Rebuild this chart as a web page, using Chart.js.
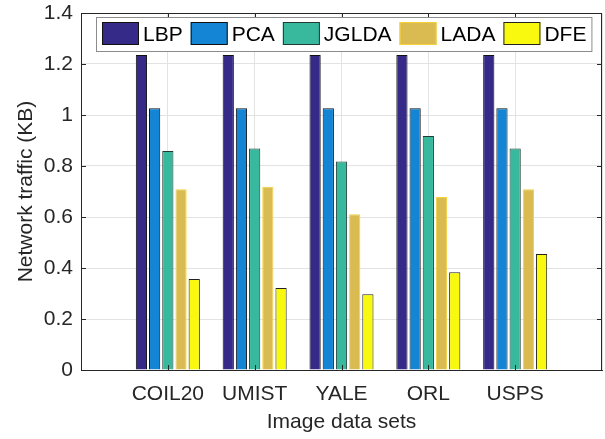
<!DOCTYPE html>
<html>
<head>
<meta charset="utf-8">
<script src="https://cdn.jsdelivr.net/npm/chart.js@4"></script>
<style>
  html, body { margin: 0; padding: 0; background: #fff; }
  #wrap { width: 605px; height: 439px; }
</style>
</head>
<body>
<div id="wrap"><canvas id="myChart" width="605" height="439"></canvas></div>
<script>
// Network traffic per method and image data set

const categories = ['COIL20', 'UMIST', 'YALE', 'ORL', 'USPS'];
const methods = ['LBP', 'PCA', 'JGLDA', 'LADA', 'DFE'];

const lbp   = [1.235, 1.235, 1.235, 1.235, 1.235];
const pca   = [1.026, 1.026, 1.026, 1.026, 1.026];
const jglda = [0.859, 0.869, 0.818, 0.918, 0.869];
const lada  = [0.709, 0.719, 0.611, 0.678, 0.709];
const dfe   = [0.357, 0.322, 0.297, 0.383, 0.455];

const yTicks = [0, 0.2, 0.4, 0.6, 0.8, 1, 1.2, 1.4];

const fills   = ['#352a87', '#1485d4', '#38b99e', '#d9bb52', '#f8f90f'];
const borders = ['#111111', '#111111', '#1f3b33', '#f5d23a', '#222222'];

const font = 'Liberation Sans, Arial, Helvetica, sans-serif';
const axisColor = '#262626';

function toPoints(values) {
    return values.map((v, i) => ({x: i + 1, y: v}));
}

const seriesValues = [lbp, pca, jglda, lada, dfe];

// legend drawn inside the plot area, like matlab
const insideLegend = {
    id: 'insideLegend',
    afterDraw(chart) {
        const c = chart.ctx;
        const area = chart.chartArea;
        c.save();
        c.font = '21px ' + font;
        c.textBaseline = 'middle';
        const left = 96;
        const top = area.top + 4;
        const h = 34;
        let x = left + 6;
        const items = [];
        chart.data.datasets.forEach(ds => {
            const w = c.measureText(ds.label).width;
            items.push({x: x, ds: ds, w: w});
            x += 41 + w + 8;
        });
        const right = x - 8 + 5;
        c.fillStyle = '#ffffff';
        c.fillRect(left, top, right - left, h);
        c.strokeStyle = '#8c8c8c';
        c.lineWidth = 1;
        c.strokeRect(left + 0.5, top + 0.5, right - left, h);
        items.forEach(it => {
            c.fillStyle = it.ds.backgroundColor;
            c.fillRect(it.x, top + 5, 37, 23);
            c.strokeStyle = it.ds.borderColor;
            c.strokeRect(it.x + 0.5, top + 5.5, 36, 22);
            c.fillStyle = '#000000';
            c.fillText(it.ds.label, it.x + 41, top + h / 2 + 1);
        });
        c.restore();
    }
};

// box around axes with inward ticks
const axesBox = {
    id: 'axesBox',
    afterDatasetsDraw(chart) {
        const c = chart.ctx;
        const a = chart.chartArea;
        const xs = chart.scales.x;
        const ys = chart.scales.y;
        c.save();
        c.strokeStyle = axisColor;
        c.lineWidth = 1;
        c.beginPath();
        yTicks.forEach(t => {
            const py = Math.round(ys.getPixelForValue(t)) + 0.5;
            c.moveTo(a.left, py); c.lineTo(a.left + 5, py);
            c.moveTo(a.right, py); c.lineTo(a.right - 5, py);
        });
        categories.forEach((cat, i) => {
            const px = Math.round(xs.getPixelForValue(i + 1)) + 0.5;
            c.moveTo(px, a.top); c.lineTo(px, a.top + 5);
            c.moveTo(px, a.bottom); c.lineTo(px, a.bottom - 5);
        });
        c.stroke();
        c.strokeRect(Math.round(a.left) + 0.5, Math.round(a.top) + 0.5,
            Math.round(a.right - a.left) - 1, Math.round(a.bottom - a.top));
        c.restore();
    }
};

const ctx = document.getElementById('myChart');

const chart = new Chart(ctx, {
    type: 'bar',
    data: {
        datasets: methods.map((m, i) => ({
            label: m,
            data: toPoints(seriesValues[i]),
            backgroundColor: fills[i],
            borderColor: borders[i],
            borderWidth: 1,
            borderSkipped: 'start',
            categoryPercentage: 0.76,
            barPercentage: 0.85
        }))
    },
    options: {
        responsive: false,
        animation: false,
        layout: { padding: { top: 13, right: 3, left: 0, bottom: 0 } },
        plugins: {
            legend: { display: false },
            tooltip: { enabled: false }
        },
        scales: {
            x: {
                type: 'linear',
                min: 0,
                max: 6,
                offset: false,
                afterFit: s => { s.height = 69; s.paddingLeft = 0; s.paddingRight = 0; },
                afterBuildTicks: s => { s.ticks = [0, 1, 2, 3, 4, 5, 6].map(v => ({value: v})); },
                ticks: {
                    autoSkip: false,
                    maxRotation: 0,
                    padding: 12,
                    color: axisColor,
                    font: { family: font, size: 21 },
                    callback: v => categories[v - 1] || ''
                },
                grid: { color: '#e3e3e3', drawTicks: false, offset: false },
                border: { color: axisColor },
                title: {
                    display: true,
                    text: 'Image data sets',
                    color: axisColor,
                    font: { family: font, size: 21 },
                    padding: { top: 0, bottom: 4 }
                }
            },
            y: {
                min: 0,
                max: 1.4,
                afterFit: s => { s.width = 81; s.paddingTop = 0; s.paddingBottom = 0; },
                afterBuildTicks: s => { s.ticks = yTicks.map(v => ({value: v})); },
                ticks: {
                    padding: 8,
                    color: axisColor,
                    font: { family: font, size: 21, lineHeight: 0.8 },
                    callback: v => String(Math.round(v * 10) / 10)
                },
                grid: { color: '#e3e3e3', drawTicks: false },
                border: { color: axisColor },
                title: {
                    display: true,
                    text: 'Network traffic (KB)',
                    color: axisColor,
                    font: { family: font, size: 21 },
                    padding: { top: 14, bottom: 0 }
                }
            }
        }
    },
    plugins: [axesBox, insideLegend]
});
</script>
</body>
</html>
